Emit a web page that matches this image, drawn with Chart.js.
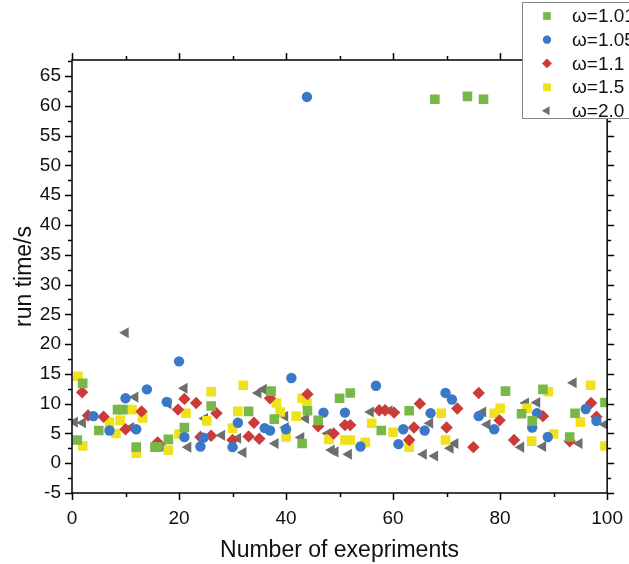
<!DOCTYPE html>
<html>
<head>
<meta charset="utf-8">
<script src="https://cdn.jsdelivr.net/npm/chart.js@4/dist/chart.umd.min.js"></script>
<style>
  html, body { margin: 0; padding: 0; background: #fff; }
  #wrap { width: 629px; height: 564px; position: relative; }
</style>
</head>
<body>
<div id="wrap"><canvas id="myChart"></canvas></div>
<script>
// Series labels
var seriesLabels = ['ω=1.01', 'ω=1.05', 'ω=1.1', 'ω=1.5', 'ω=2.0'];

var omega101 = [[1,3.9],[2,13.4],[5,5.5],[8.5,9],[9.5,9],[12,2.7],[15.5,2.7],[16,2.7],[18,4],[21,6],
  [26,9.6],[33,8.7],[37.2,12.1],[37.8,7.4],[43,3.3],[44,8.8],[46,7.2],[50,10.9],[52,11.8],[57.8,5.5],
  [63,8.8],[67.8,61.1],[73.9,61.6],[76.9,61.1],[81,12.1],[84,8.3],[86,7.1],[88,12.4],[93,4.4],[94,8.4],[99.6,10.2]];
var omega105 = [[4,7.9],[7,5.5],[10,10.9],[12,5.7],[14,12.4],[17.7,10.3],[20,17.1],[21,4.4],[24.6,4.3],[24,2.8],
  [30,2.7],[31,6.8],[36,5.9],[37,5.5],[40,5.7],[41,14.3],[43.9,61.5],[47,8.5],[51,8.5],[53.9,2.8],
  [56.8,13],[61,3.2],[61.9,5.7],[65.9,5.5],[67,8.4],[69.8,11.8],[71,10.7],[76,7.9],[78.9,5.7],[86,6],
  [86.9,8.4],[88.9,4.4],[96,9.1],[98,7.1]];
var omega11 = [[1.9,11.9],[3,8],[5.9,7.8],[10,5.7],[13,8.7],[16,3.5],[19.8,9],[21,10.8],[23.2,10.1],[24,4.4],
  [26,4.6],[27,8.4],[30,3.9],[33,4.5],[34,6.8],[35,4.1],[37,10.9],[44,11.6],[46,6.2],[48.9,5],
  [51,6.4],[52,6.4],[57.4,8.9],[58.5,8.9],[60.2,8.5],[63,3.9],[63.9,6],[65,10],[70,6],[72,9.2],
  [75,2.7],[76,11.8],[79.9,7.2],[82.6,3.9],[88,7.9],[93,3.7],[97,10.1],[98,7.8]];
var omega15 = [[1.1,14.6],[2,2.9],[7,6.9],[8.2,5],[9,7.2],[11.2,9],[12,1.7],[13.2,7.6],[18,2.2],[20,4.9],
  [21.3,8.4],[25.2,7.1],[26,12],[30,5.9],[31,8.7],[32,13.1],[38.2,10.1],[38.9,8.6],[40,4.4],[41.9,7.9],
  [43,10.9],[43.9,10.1],[48,4],[51,3.9],[52,3.9],[54.8,3.5],[56,6.7],[60,5.2],[63,2.7],[69,8.4],
  [69.8,3.9],[78.9,8.4],[80,9.2],[85,9.2],[85.9,3.7],[89,12],[90,4.9],[95,6.9],[96.9,13.1],[99.6,2.9]];
var omega20 = [[0.5,6.9],[2,6.8],[10,21.9],[11,6],[11.8,11.1],[16.9,2.7],[18,10],[21,12.6],[21.7,2.7],[24.8,7.5],
  [28,4.7],[31,4.2],[32,1.8],[34.8,11.8],[35.8,12.4],[38,3.3],[39.8,7.9],[39.9,6],[42.8,4.3],[43.7,7.5],
  [47.8,5],[48.5,2.2],[49.2,1.9],[51.7,1.5],[55.8,8.6],[59.3,8.8],[65.7,1.5],[66.9,6.7],[67.8,1.2],[70.7,2.5],
  [71.6,3.3],[76.8,8.6],[77.6,6.5],[83.9,2.7],[84.8,10.1],[86.9,10.2],[88,2.8],[93.7,13.5],[94.8,3.3],[99.6,6.5]];

// Tick labels
var xTicks = [0, 20, 40, 60, 80, 100];
var yTicks = [-5, 0, 5, 10, 15, 20, 25, 30, 35, 40, 45, 50, 55, 60, 65];

var colors = ['#78b848', '#3a78c8', '#cc3a3a', '#efe21c', '#6e6e6e'];
var styles = ['rect', 'circle', 'rectRot', 'rect', 'triangle'];
var rotations = [0, 0, 0, 0, -90];
var radii = [6.8, 5.2, 6.2, 6.8, 6.4];
var allSeries = [omega101, omega105, omega11, omega15, omega20];

function toPoints(arr) {
    return arr.map(function(p) { return { x: p[0], y: p[1] }; });
}

var datasets = allSeries.map(function(s, i) {
    return {
        label: seriesLabels[i],
        data: toPoints(s),
        pointStyle: styles[i],
        rotation: rotations[i],
        pointRadius: radii[i],
        backgroundColor: colors[i],
        borderColor: colors[i],
        borderWidth: 0,
        clip: 0
    };
});

// Box, outward major/minor ticks on all four sides
var frameTicks = {
    id: 'frameTicks',
    afterDatasetsDraw: function(chart) {
        var ctx = chart.ctx, a = chart.chartArea;
        var xs = chart.scales.x, ys = chart.scales.y;
        ctx.save();
        ctx.strokeStyle = '#000';
        ctx.lineWidth = 1.5;
        ctx.strokeRect(a.left, a.top, a.right - a.left, a.bottom - a.top);
        ctx.beginPath();
        for (var v = -5; v <= ys.max; v += 2.5) {
            var py = Math.round(ys.getPixelForValue(v)) + 0.5;
            var len = (v % 5 === 0) ? 7 : 4;
            ctx.moveTo(a.left - len, py); ctx.lineTo(a.left, py);
            ctx.moveTo(a.right, py); ctx.lineTo(a.right + len, py);
        }
        for (var u = 0; u <= 100; u += 10) {
            var px = Math.round(xs.getPixelForValue(u)) + 0.5;
            var l2 = (u % 20 === 0) ? 7 : 4;
            ctx.moveTo(px, a.bottom); ctx.lineTo(px, a.bottom + l2);
            ctx.moveTo(px, a.top); ctx.lineTo(px, a.top - l2);
        }
        ctx.stroke();
        ctx.restore();
    }
};

// Legend box in the top-right corner
var cornerLegend = {
    id: 'cornerLegend',
    afterDraw: function(chart) {
        var ctx = chart.ctx;
        ctx.save();
        ctx.fillStyle = '#fff';
        ctx.fillRect(522, 2, 120, 116);
        ctx.strokeStyle = '#888';
        ctx.lineWidth = 1;
        ctx.strokeRect(522.5, 2.5, 120, 116);
        ctx.font = '19px "Liberation Sans", Arial, sans-serif';
        ctx.textBaseline = 'middle';
        for (var i = 0; i < seriesLabels.length; i++) {
            var y = 16 + i * 23.7;
            ctx.fillStyle = colors[i];
            ctx.strokeStyle = colors[i];
            Chart.helpers.drawPoint(ctx, {
                pointStyle: styles[i], rotation: rotations[i], radius: radii[i] * 0.8, borderWidth: 0
            }, 547, y);
            ctx.fillStyle = '#111';
            ctx.fillText(seriesLabels[i], 572, y + 1);
        }
        ctx.restore();
    }
};

var tickFont = { family: '"Liberation Sans", Arial, sans-serif', size: 19 };
var titleFont = { family: '"Liberation Sans", Arial, sans-serif', size: 23 };

var ctx = document.getElementById('myChart').getContext('2d');
var myChart = new Chart(ctx, {
    type: 'scatter',
    data: { datasets: datasets },
    options: {
        responsive: true,
        maintainAspectRatio: false,
        animation: false,
        layout: { padding: { top: 60, right: 17, left: 0, bottom: 0 } },
        plugins: { legend: { display: false }, tooltip: { enabled: false } },
        scales: {
            x: {
                type: 'linear', min: 0, max: 100,
                grid: { display: false },
                border: { display: false },
                ticks: { font: tickFont, color: '#111', padding: 6, maxRotation: 0 },
                afterBuildTicks: function(s) { s.ticks = xTicks.map(function(v) { return { value: v }; }); },
                afterFit: function(s) { s.height = 71; },
                title: { display: true, text: 'Number of exepriments', font: titleFont, color: '#111', padding: { top: 0, bottom: 0 } }
            },
            y: {
                type: 'linear', min: -5, max: 67.7,
                grid: { display: false },
                border: { display: false },
                ticks: { font: tickFont, color: '#111', padding: 3 },
                afterBuildTicks: function(s) { s.ticks = yTicks.map(function(v) { return { value: v }; }); },
                afterFit: function(s) { s.width = 72; },
                title: { display: true, text: 'run time/s', font: titleFont, color: '#111', padding: { top: 11, bottom: 0 } }
            }
        }
    },
    plugins: [frameTicks, cornerLegend]
});
</script>
</body>
</html>
